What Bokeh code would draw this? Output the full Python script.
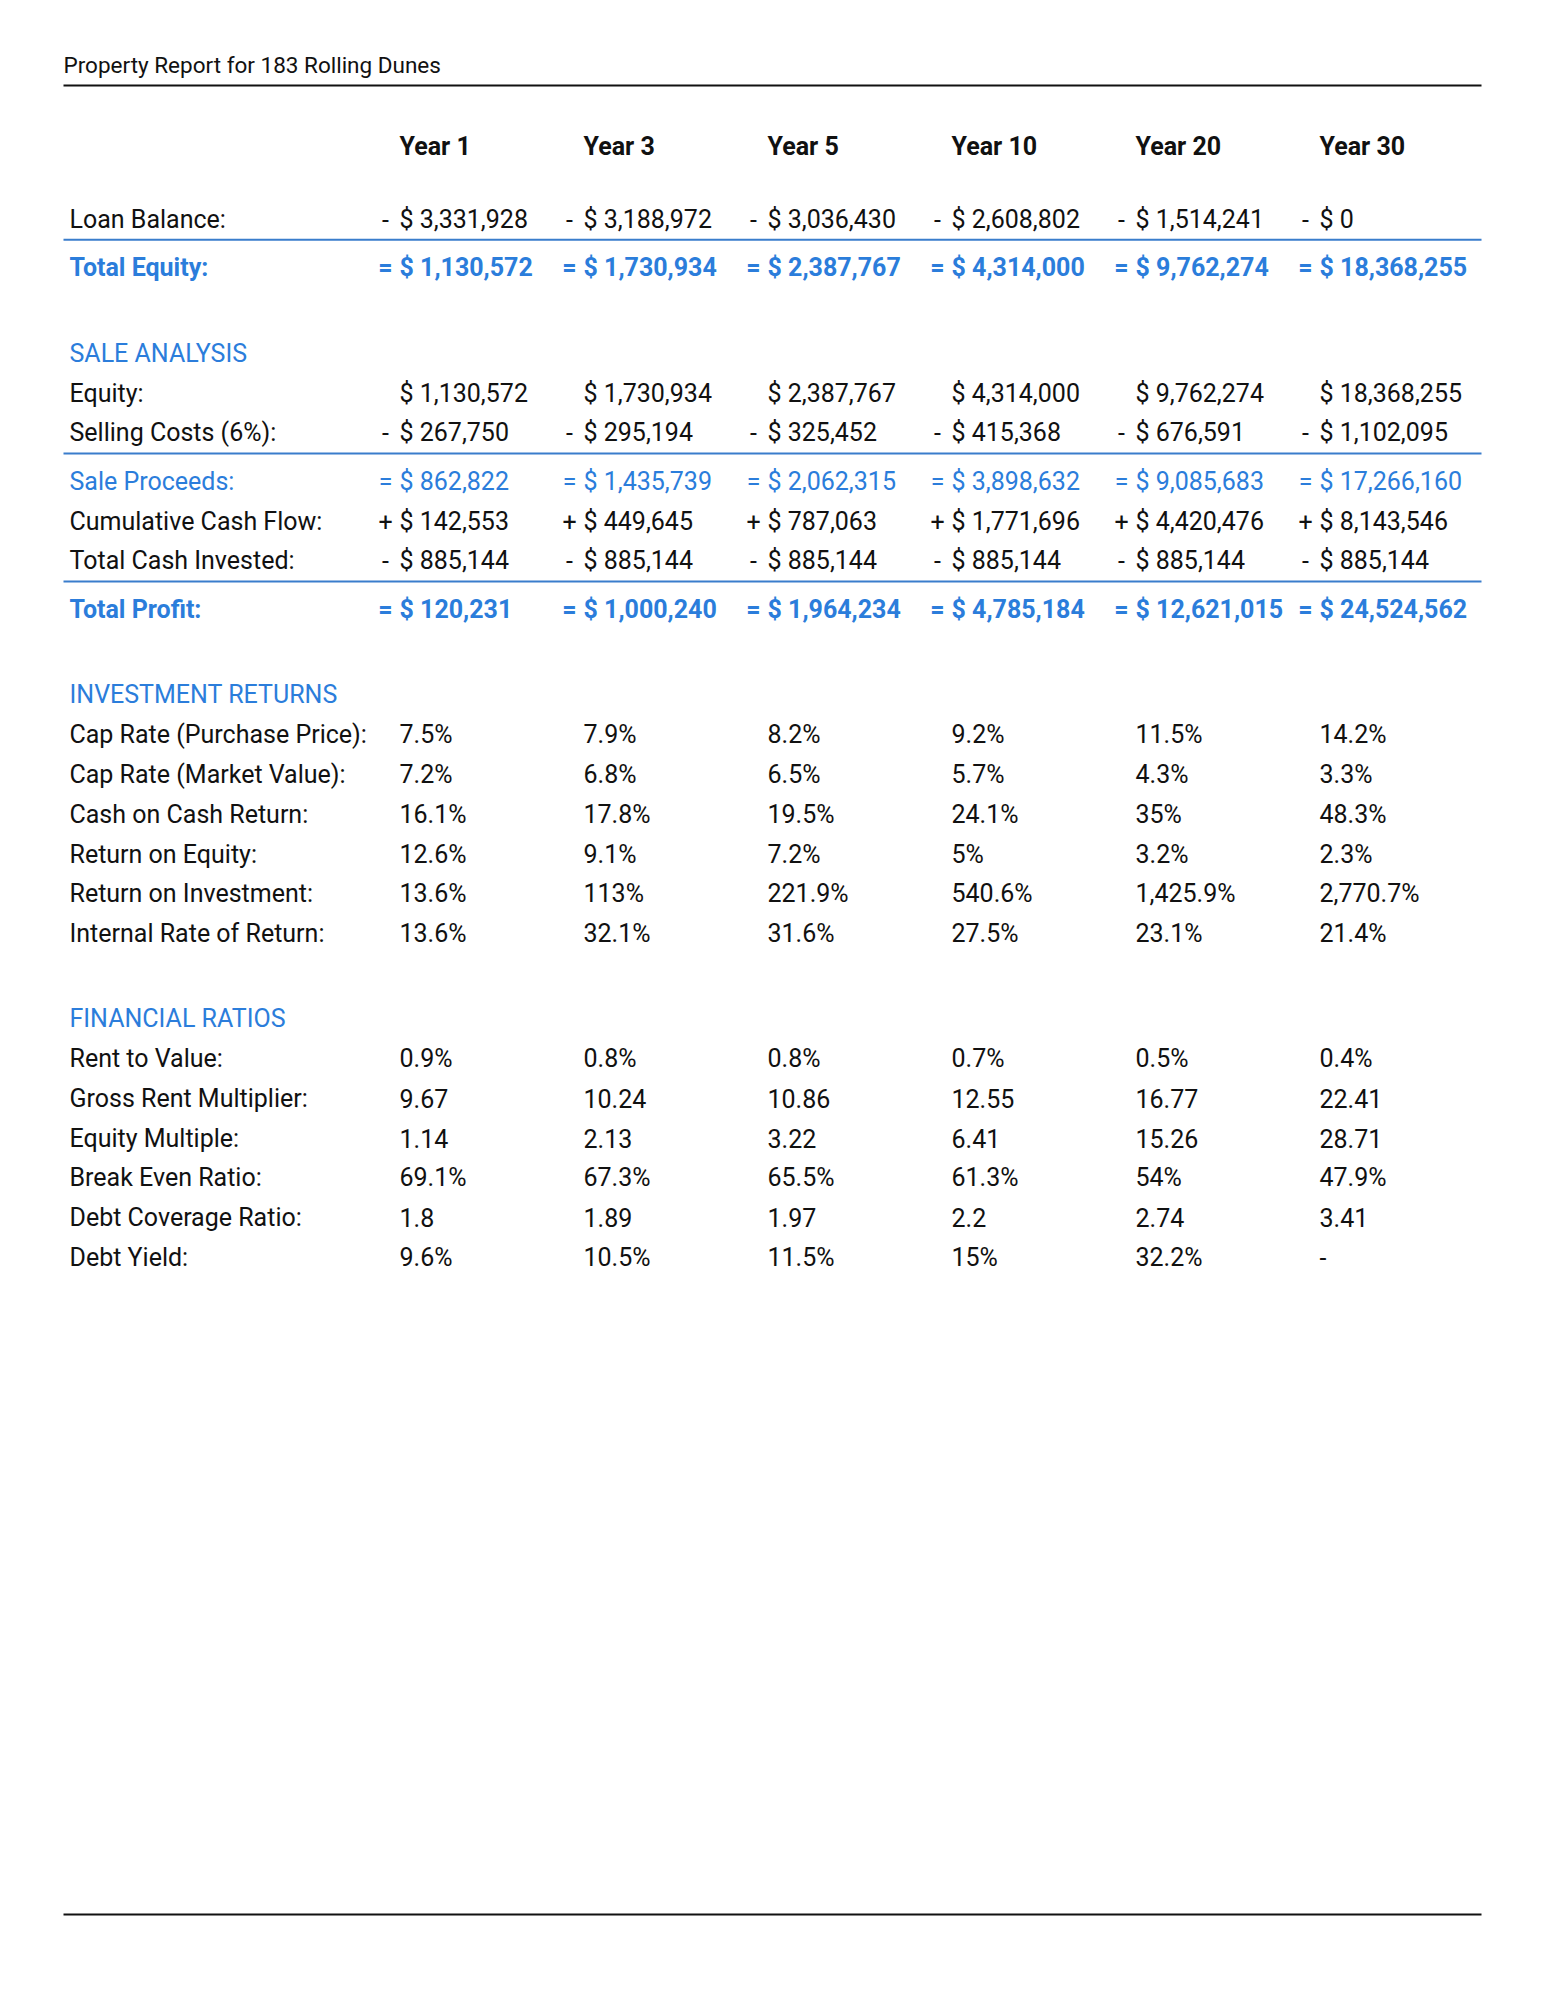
from bokeh.plotting import figure
from bokeh.models import ColumnDataSource, Range1d
from bokeh.core.properties import value
from bokeh.embed import file_html
from bokeh.resources import INLINE

# ---------------- data ----------------
title = "Property Report for 183 Rolling Dunes"
years = ["Year 1", "Year 3", "Year 5", "Year 10", "Year 20", "Year 30"]

loan_balance = [3331928, 3188972, 3036430, 2608802, 1514241, 0]
total_equity = [1130572, 1730934, 2387767, 4314000, 9762274, 18368255]
equity = [1130572, 1730934, 2387767, 4314000, 9762274, 18368255]
selling_costs = [267750, 295194, 325452, 415368, 676591, 1102095]
sale_proceeds = [862822, 1435739, 2062315, 3898632, 9085683, 17266160]
cumulative_cash_flow = [142553, 449645, 787063, 1771696, 4420476, 8143546]
total_cash_invested = [885144, 885144, 885144, 885144, 885144, 885144]
total_profit = [120231, 1000240, 1964234, 4785184, 12621015, 24524562]

cap_rate_purchase = [7.5, 7.9, 8.2, 9.2, 11.5, 14.2]
cap_rate_market = [7.2, 6.8, 6.5, 5.7, 4.3, 3.3]
cash_on_cash = [16.1, 17.8, 19.5, 24.1, 35, 48.3]
return_on_equity = [12.6, 9.1, 7.2, 5, 3.2, 2.3]
return_on_investment = [13.6, 113, 221.9, 540.6, 1425.9, 2770.7]
irr = [13.6, 32.1, 31.6, 27.5, 23.1, 21.4]

rent_to_value = [0.9, 0.8, 0.8, 0.7, 0.5, 0.4]
gross_rent_multiplier = [9.67, 10.24, 10.86, 12.55, 16.77, 22.41]
equity_multiple = [1.14, 2.13, 3.22, 6.41, 15.26, 28.71]
break_even_ratio = [69.1, 67.3, 65.5, 61.3, 54, 47.9]
debt_coverage_ratio = [1.8, 1.89, 1.97, 2.2, 2.74, 3.41]
debt_yield = [9.6, 10.5, 11.5, 15, 32.2, None]

# ---------------- formatting ----------------
def money(v):
    return f"$ {v:,}"

def pct(v):
    if v is None:
        return "-"
    s = f"{v:,.1f}"
    if s.endswith(".0"):
        s = s[:-2]
    return s + "%"

def ratio(v):
    return "-" if v is None else str(v)

rows = [
    ("first", "Loan Balance:", "-", loan_balance, money, "plain"),
    ("after_rule", "Total Equity:", "=", total_equity, money, "blue_bold"),
    ("section", "SALE ANALYSIS", None, None, None, "blue"),
    ("row", "Equity:", "", equity, money, "plain"),
    ("row", "Selling Costs (6%):", "-", selling_costs, money, "plain"),
    ("after_rule", "Sale Proceeds:", "=", sale_proceeds, money, "blue"),
    ("row", "Cumulative Cash Flow:", "+", cumulative_cash_flow, money, "plain"),
    ("row", "Total Cash Invested:", "-", total_cash_invested, money, "plain"),
    ("after_rule", "Total Profit:", "=", total_profit, money, "blue_bold"),
    ("section", "INVESTMENT RETURNS", None, None, None, "blue"),
    ("row", "Cap Rate (Purchase Price):", "", cap_rate_purchase, pct, "plain"),
    ("row", "Cap Rate (Market Value):", "", cap_rate_market, pct, "plain"),
    ("row", "Cash on Cash Return:", "", cash_on_cash, pct, "plain"),
    ("row", "Return on Equity:", "", return_on_equity, pct, "plain"),
    ("row", "Return on Investment:", "", return_on_investment, pct, "plain"),
    ("row", "Internal Rate of Return:", "", irr, pct, "plain"),
    ("section", "FINANCIAL RATIOS", None, None, None, "blue"),
    ("row", "Rent to Value:", "", rent_to_value, pct, "plain"),
    ("row", "Gross Rent Multiplier:", "", gross_rent_multiplier, ratio, "plain"),
    ("row", "Equity Multiple:", "", equity_multiple, ratio, "plain"),
    ("row", "Break Even Ratio:", "", break_even_ratio, pct, "plain"),
    ("row", "Debt Coverage Ratio:", "", debt_coverage_ratio, ratio, "plain"),
    ("row", "Debt Yield:", "", debt_yield, pct, "plain"),
]

# ---------------- layout constants ----------------
FONT = "Roboto"
FS = 25
BLACK = "#111111"
BLUE = "#2b7ddb"
RULE_BLUE = "#3a7dcc"
LEFT, RIGHT = 63, 1481
LABEL_X = 69
COL0, COL_STEP = 399, 184
SIGN_DX = -14
HEADER_Y = 145.5
ROW = 39.7

ys = []
rules = []
y = HEADER_Y
prev = None
for kind, *_ in rows:
    if kind == "first":
        y += 73
    elif kind == "after_rule":
        rules.append(y + 20.7)
        y += 48.8
    elif kind == "section":
        y += 85.2
    else:
        y += 40 if prev == "section" else ROW
    prev = kind
    ys.append(y)

W, H = 1529, 1984
p = figure(width=W, height=H, output_backend="svg", toolbar_location=None,
           x_range=Range1d(0, W), y_range=Range1d(H, 0), min_border=0)
p.axis.visible = False
p.grid.visible = False
p.outline_line_color = None
p.background_fill_color = "white"

# title and page rules
p.text(x=[LEFT], y=[64], text=[title], text_font=value(FONT), text_font_size="22.5px",
       text_color=BLACK, text_baseline="middle", text_align="left")
p.segment(x0=[LEFT, LEFT], x1=[RIGHT, RIGHT], y0=[85, 1914], y1=[85, 1914],
          line_color="#111111", line_width=2)

# header
col_x = [COL0 + COL_STEP * i for i in range(len(years))]
p.text(x=col_x, y=[HEADER_Y] * len(years), text=years, text_font=value(FONT),
       text_font_size=f"{FS}px", text_font_style="bold", text_color=BLACK,
       text_baseline="middle", text_align="left")

# blue rules
p.segment(x0=[LEFT] * len(rules), x1=[RIGHT] * len(rules), y0=rules, y1=rules,
          line_color=RULE_BLUE, line_width=2)

groups = {}
def add(style, align, x, yy, t):
    g = groups.setdefault((style, align), {"x": [], "y": [], "text": []})
    g["x"].append(x); g["y"].append(yy); g["text"].append(t)

for (kind, label, sign, vals, fmt, style), yc in zip(rows, ys):
    add(style, "left", LABEL_X, yc, label)
    if vals is None:
        continue
    for i, v in enumerate(vals):
        if sign:
            add(style, "center", col_x[i] + SIGN_DX, yc, sign)
        add(style, "left", col_x[i], yc, fmt(v))

for (style, align), g in groups.items():
    color = BLACK if style == "plain" else BLUE
    fstyle = "bold" if style == "blue_bold" else "normal"
    p.text(x="x", y="y", text="text", source=ColumnDataSource(g), text_font=value(FONT),
           text_font_size=f"{FS}px", text_font_style=fstyle, text_color=color,
           text_baseline="middle", text_align=align)

open("out.html", "w").write(file_html(p, INLINE))
